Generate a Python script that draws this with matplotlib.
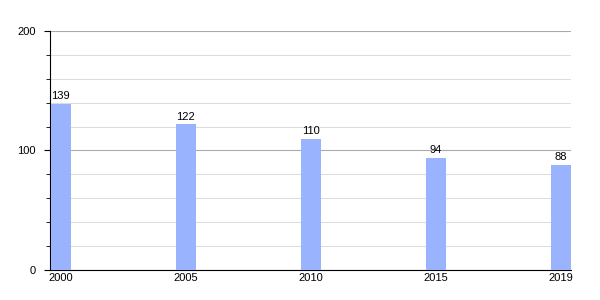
import matplotlib.pyplot as plt
from matplotlib.ticker import MultipleLocator

plt.rcParams['font.family'] = ['Liberation Sans', 'DejaVu Sans']

years = ['2000', '2005', '2010', '2015', '2019']
values = [139, 122, 110, 94, 88]

fig = plt.figure(figsize=(6, 3), dpi=100)
ax = fig.add_axes([0.0833, 0.1, 0.8684, 0.7967])

width = 0.16
pos = list(range(len(years)))
ax.bar(pos, values, width=width, align='edge', color='#99b3ff', zorder=3)
for p, v in zip(pos, values):
    ax.text(p + width / 2, v + 2, str(v), ha='center', va='bottom', fontsize=8)

ax.set_xlim(-0.005, len(years) - 1 + width)
ax.set_ylim(0, 200)
ax.set_xticks([p + width / 2 for p in pos])
ax.set_xticklabels(years, fontsize=8)
ax.tick_params(axis='x', length=0, pad=2)
ax.yaxis.set_major_locator(MultipleLocator(100))
ax.yaxis.set_minor_locator(MultipleLocator(20))
ax.tick_params(axis='y', which='major', length=4, labelsize=8, pad=6)
ax.tick_params(axis='y', which='minor', length=3)
ax.grid(axis='y', which='major', color='#aaaaaa', linewidth=0.8, zorder=0)
ax.grid(axis='y', which='minor', color='#dddddd', linewidth=0.8, zorder=0)
ax.spines['right'].set_visible(False)
ax.spines['top'].set_visible(False)
ax.spines['left'].set_linewidth(0.8)
ax.spines['bottom'].set_linewidth(0.8)

fig.savefig('out.png')
